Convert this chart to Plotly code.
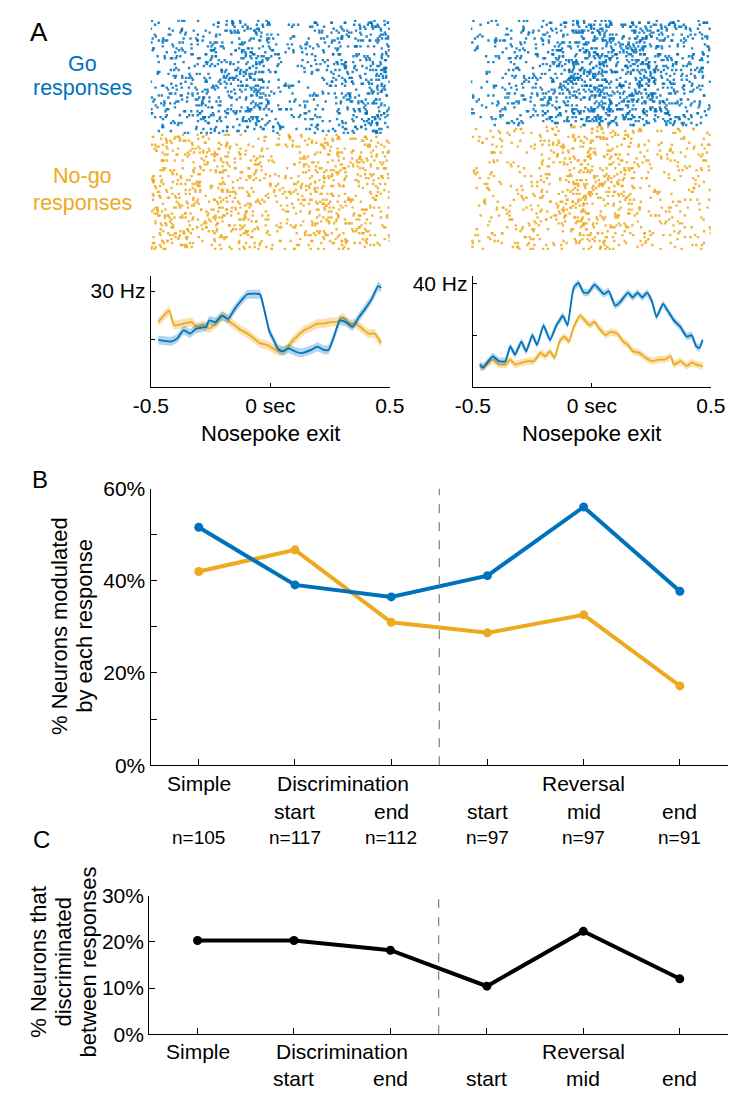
import numpy as np
import plotly.graph_objects as go

W, H = 743, 1099
BLUE = "#0072BD"
ORANGE = "#EDAA1E"
BLUE_BAND = "rgba(0,114,189,0.30)"
ORANGE_BAND = "rgba(237,170,30,0.35)"
FONT = "Liberation Sans, Arial, sans-serif"

# ---------------- Panel A : PSTHs (time in s, rate in Hz) ----------------
L_T_GO = [-0.469, -0.416, -0.389, -0.363, -0.336, -0.309, -0.269, -0.256, -0.229, -0.203, -0.176, -0.149,
          -0.123, -0.096, -0.043, -0.029, -0.003, 0.011, 0.031, 0.051, 0.077, 0.104, 0.131, 0.171, 0.197,
          0.224, 0.244, 0.264, 0.291, 0.317, 0.344, 0.371, 0.397, 0.424, 0.451, 0.464]
L_HZ_GO = [14.7, 14.2, 15.2, 17.8, 16.7, 18.3, 18.8, 20.8, 20.3, 22.3, 21.3, 24.4,
           26.9, 29.0, 29.0, 25.4, 17.2, 15.2, 12.1, 11.1, 12.1, 11.1, 10.6, 11.6, 12.6,
           11.6, 11.6, 15.2, 20.8, 20.3, 18.8, 21.8, 24.4, 27.4, 31.5, 31.0]
L_T_NOGO = [-0.469, -0.423, -0.403, -0.363, -0.329, -0.309, -0.283, -0.256, -0.229, -0.196, -0.176, -0.149,
            -0.123, -0.096, -0.069, -0.043, -0.016, 0.011, 0.037, 0.064, 0.091, 0.117, 0.144, 0.171, 0.197,
            0.224, 0.251, 0.277, 0.304, 0.331, 0.357, 0.384, 0.411, 0.437, 0.464]
L_HZ_NOGO = [20.3, 23.9, 19.3, 19.8, 20.3, 18.8, 19.3, 18.3, 19.8, 22.3, 20.8, 19.3,
             17.8, 16.7, 15.2, 13.7, 13.2, 12.1, 11.1, 11.6, 14.2, 16.2, 17.8, 18.8, 19.8,
             19.8, 20.3, 20.3, 21.8, 19.8, 19.8, 18.3, 16.7, 16.7, 13.7]
R_T_GO = [-0.471, -0.457, -0.417, -0.390, -0.363, -0.343, -0.323, -0.296, -0.276, -0.250, -0.230, -0.203,
          -0.176, -0.149, -0.136, -0.122, -0.102, -0.089, -0.076, -0.056, -0.035, -0.015, 0.011, 0.031,
          0.051, 0.071, 0.098, 0.118, 0.152, 0.172, 0.192, 0.212, 0.232, 0.252, 0.272, 0.299, 0.319,
          0.345, 0.372, 0.399, 0.419, 0.439, 0.452, 0.466]
R_HZ_GO = [8.6, 7.4, 11.8, 9.9, 9.9, 15.6, 12.4, 17.5, 13.7, 20.0, 16.2, 23.8,
           18.1, 23.8, 25.7, 27.6, 23.8, 31.4, 38.4, 40.3, 36.5, 36.5, 39.6, 37.8,
           35.9, 37.1, 31.4, 32.7, 36.5, 34.6, 36.5, 34.6, 36.5, 33.3, 27.0, 32.1, 29.5,
           25.7, 23.2, 19.4, 20.0, 15.6, 15.0, 18.1]
R_T_NOGO = [-0.471, -0.451, -0.417, -0.390, -0.363, -0.343, -0.323, -0.296, -0.270, -0.243, -0.216, -0.196,
            -0.176, -0.156, -0.136, -0.116, -0.096, -0.076, -0.049, -0.029, -0.009, 0.011, 0.031, 0.058,
            0.078, 0.105, 0.132, 0.152, 0.172, 0.199, 0.226, 0.252, 0.279, 0.305, 0.332, 0.345, 0.372,
            0.399, 0.419, 0.439, 0.466]
R_HZ_NOGO = [7.4, 8.0, 10.5, 8.6, 8.6, 10.5, 8.6, 9.3, 9.9, 9.9, 13.1, 11.8,
             13.7, 11.2, 17.5, 19.4, 17.5, 23.2, 27.6, 25.7, 23.8, 25.1, 22.6, 20.0,
             21.3, 20.7, 17.5, 16.2, 13.7, 13.1, 11.2, 9.9, 10.5, 10.5, 11.8, 8.6, 9.9,
             8.0, 9.3, 8.6, 8.0]
SEM_LEFT = 1.4
SEM_RIGHT = 1.4

# raster trial counts (rows)
L_TRIALS_GO, L_TRIALS_NOGO = 58, 59
R_TRIALS_GO, R_TRIALS_NOGO = 54, 63

# ---------------- Panel B / C ----------------
STAGES = ["Simple", "Discrimination start", "Discrimination end", "Reversal start", "Reversal mid", "Reversal end"]
N_NEURONS = ["n=105", "n=117", "n=112", "n=97", "n=97", "n=91"]
PCT_GO = [51.6, 39.1, 36.5, 41.1, 56.0, 37.7]
PCT_NOGO = [42.0, 46.7, 31.0, 28.7, 32.6, 17.2]
PCT_DISCRIM = [20.3, 20.3, 18.2, 10.4, 22.3, 12.0]


def py(px):
    return 1 - px / H


def px_(x):
    return x / W


def raster_points(t_ref, hz_ref, n_trials, first_row, phase):
    """Deterministic (quasi-uniform) spike placement following the read firing-rate curve."""
    grid = np.linspace(-0.5, 0.5, 1001)
    rate = np.interp(grid, t_ref, hz_ref)
    cum = np.concatenate([[0.0], np.cumsum(0.5 * (rate[1:] + rate[:-1]) * np.diff(grid))])
    total = cum[-1]
    xs, ys = [], []
    for k in range(n_trials):
        n = int(round(total * (0.7 + 0.6 * ((k * 0.7548776662) % 1.0))))
        j = np.arange(n)
        a = (0.6180339887 + k * 0.0773) % 1.0
        b = (k * 0.2071067812) % 1.0
        u = (j * a + j * j * 0.2360679775 + b + phase) % 1.0
        xs.append(np.interp(u * total, cum, grid))
        ys.append(np.full(n, first_row + k + 0.5))
    return np.concatenate(xs), np.concatenate(ys)


fig = go.Figure()

# Rasters
for (tg, hg, tn, hn, ng, nn, xa, ya) in [
    (L_T_GO, L_HZ_GO, L_T_NOGO, L_HZ_NOGO, L_TRIALS_GO, L_TRIALS_NOGO, "x", "y"),
    (R_T_GO, R_HZ_GO, R_T_NOGO, R_HZ_NOGO, R_TRIALS_GO, R_TRIALS_NOGO, "x2", "y2"),
]:
    gx, gy = raster_points(tg, hg, ng, 0, 0.11)
    nx, ny = raster_points(tn, hn, nn, ng, 0.37)
    fig.add_trace(go.Scatter(x=gx, y=gy, mode="markers", xaxis=xa, yaxis=ya,
                             marker=dict(color=BLUE, size=2.4, symbol="square", opacity=0.85, line=dict(width=0)),
                             showlegend=False, hoverinfo="skip"))
    fig.add_trace(go.Scatter(x=nx, y=ny, mode="markers", xaxis=xa, yaxis=ya,
                             marker=dict(color=ORANGE, size=2.4, symbol="square", opacity=0.85, line=dict(width=0)),
                             showlegend=False, hoverinfo="skip"))

# PSTHs with bands
for (t, hz, sem, col, band, xa, ya) in [
    (L_T_NOGO, L_HZ_NOGO, SEM_LEFT, ORANGE, ORANGE_BAND, "x3", "y3"),
    (L_T_GO, L_HZ_GO, SEM_LEFT, BLUE, BLUE_BAND, "x3", "y3"),
    (R_T_NOGO, R_HZ_NOGO, SEM_RIGHT, ORANGE, ORANGE_BAND, "x4", "y4"),
    (R_T_GO, R_HZ_GO, SEM_RIGHT, BLUE, BLUE_BAND, "x4", "y4"),
]:
    t = np.array(t)
    hz = np.array(hz)
    fig.add_trace(go.Scatter(x=np.concatenate([t, t[::-1]]),
                             y=np.concatenate([hz + sem, (hz - sem)[::-1]]),
                             fill="toself", fillcolor=band, line=dict(width=0),
                             mode="lines", xaxis=xa, yaxis=ya, showlegend=False, hoverinfo="skip"))
    fig.add_trace(go.Scatter(x=t, y=hz, mode="lines", line=dict(color=col, width=1.8, shape="spline", smoothing=0.5),
                             xaxis=xa, yaxis=ya, showlegend=False))

# Panel B
cat_x = list(range(1, len(STAGES) + 1))
fig.add_trace(go.Scatter(x=cat_x, y=PCT_NOGO, mode="lines+markers", xaxis="x5", yaxis="y5",
                         line=dict(color=ORANGE, width=4), marker=dict(color=ORANGE, size=9),
                         showlegend=False))
fig.add_trace(go.Scatter(x=cat_x, y=PCT_GO, mode="lines+markers", xaxis="x5", yaxis="y5",
                         line=dict(color=BLUE, width=4), marker=dict(color=BLUE, size=9),
                         showlegend=False))
# Panel C
fig.add_trace(go.Scatter(x=cat_x, y=PCT_DISCRIM, mode="lines+markers", xaxis="x6", yaxis="y6",
                         line=dict(color="black", width=4), marker=dict(color="black", size=9),
                         showlegend=False))

axis_common = dict(showgrid=False, zeroline=False, linecolor="black", linewidth=1.3,
                   ticks="inside", tickcolor="black", tickwidth=1.3,
                   tickfont=dict(family=FONT, size=21, color="black"))
hidden = dict(visible=False, showgrid=False, zeroline=False, fixedrange=True)

PSTH_L_X = [px_(139), px_(389)]
PSTH_R_X = [px_(476), px_(725)]

layout = dict(
    width=W, height=H, margin=dict(l=0, r=0, t=0, b=0),
    paper_bgcolor="white", plot_bgcolor="white",
    font=dict(family=FONT, color="black"),
    # rasters
    xaxis=dict(domain=PSTH_L_X, range=[-0.5, 0.5], **hidden),
    yaxis=dict(domain=[py(243), py(8)], range=[L_TRIALS_GO + L_TRIALS_NOGO, 0], anchor="x", **hidden),
    xaxis2=dict(domain=[px_(474), px_(725)], range=[-0.5, 0.5], **hidden),
    yaxis2=dict(domain=[py(243), py(8)], range=[R_TRIALS_GO + R_TRIALS_NOGO, 0], anchor="x2", **hidden),
    # PSTH left
    xaxis3=dict(domain=PSTH_L_X, range=[-0.5, 0.5], anchor="y3", tickvals=[-0.5, 0, 0.5],
                ticktext=["-0.5", "0 sec", "0.5"], ticklen=4, **axis_common),
    yaxis3=dict(domain=[py(383), py(270)], range=[0, 34.6], anchor="x3", tickvals=[15, 30],
                ticktext=["", "30 Hz"], ticklen=4, **axis_common),
    # PSTH right
    xaxis4=dict(domain=PSTH_R_X, range=[-0.5, 0.5], anchor="y4", tickvals=[-0.5, 0, 0.5],
                ticktext=["-0.5", "0 sec", "0.5"], ticklen=4, **axis_common),
    yaxis4=dict(domain=[py(382.7), py(270)], range=[0, 42.8], anchor="x4", tickvals=[20, 40],
                ticktext=["", "40 Hz"], ticklen=4, **axis_common),
    # Panel B
    xaxis5=dict(domain=[px_(138.8), 1.0], range=[0.5, 6.5], anchor="y5", tickvals=cat_x,
                showticklabels=False, ticklen=6, **axis_common),
    yaxis5=dict(domain=[py(769.3), py(486.7)], range=[0, 60], anchor="x5",
                tickvals=[0, 10, 20, 30, 40, 50, 60],
                ticktext=["0%", "", "20%", "", "40%", "", "60%"], ticklen=6, **axis_common),
    # Panel C
    xaxis6=dict(domain=[px_(137.4), 1.0], range=[0.5, 6.5], anchor="y6", tickvals=cat_x,
                showticklabels=False, ticklen=6, **axis_common),
    yaxis6=dict(domain=[py(1044), py(902.7)], range=[0, 30], anchor="x6",
                tickvals=[0, 10, 20, 30], ticktext=["0%", "10%", "20%", "30%"], ticklen=6, **axis_common),
)
fig.update_layout(**layout)

# dashed separators
fig.add_shape(type="line", xref="x5", yref="y5", x0=3.5, x1=3.5, y0=0, y1=60,
              line=dict(color="#8a8a8a", width=1.3, dash="dash"))
fig.add_shape(type="line", xref="x6", yref="y6", x0=3.5, x1=3.5, y0=0, y1=30,
              line=dict(color="#8a8a8a", width=1.3, dash="dash"))

ann = []


def text(x, y, s, size=21, color="black", xanchor="center", angle=0, xref="paper"):
    ann.append(dict(x=x, y=py(y), xref=xref, yref="paper", text=s, showarrow=False,
                    xanchor=xanchor, yanchor="middle", textangle=angle,
                    font=dict(family=FONT, size=size, color=color)))


# panel letters
text(px_(22), 20, "A", size=26)
text(px_(23), 477, "B", size=24)
text(px_(25), 845, "C", size=24)

# Panel A labels
text(px_(68), 53, "Go", size=21.5, color=BLUE)
text(px_(68), 78, "responses", size=21.5, color=BLUE)
text(px_(68), 167, "No-go", size=21.5, color=ORANGE)
text(px_(68), 195, "responses", size=21.5, color=ORANGE)
text(px_(264), 430, "Nosepoke exit", size=22)
text(px_(600), 430, "Nosepoke exit", size=22)

# Panel B axis title
text(px_(44), 627, "% Neurons modulated", size=22, angle=-90)
text(px_(70), 627, "by each response", size=22, angle=-90)

# Panel B/C category labels
second_words = [s.split(" ")[1] if " " in s else "" for s in STAGES]
for (xa, y1, y2) in [("x5", 788, 817), ("x6", 1062, 1089)]:
    text(1, y1, STAGES[0], xref=xa)
    text(2.5, y1, "Discrimination", xref=xa)
    text(5, y1, "Reversal", xref=xa)
    for i in range(1, len(STAGES)):
        text(cat_x[i], y2, second_words[i], xref=xa)
for i, n in enumerate(N_NEURONS):
    text(cat_x[i], 843, n, size=19, xref="x5")

# Panel C axis title
text(px_(22), 970, "% Neurons that", size=22, angle=-90)
text(px_(48), 970, "discriminated", size=22, angle=-90)
text(px_(74), 970, "between responses", size=22, angle=-90)

fig.update_layout(annotations=ann)
fig.write_html("out.html", post_script="document.body.style.margin='0px';")
